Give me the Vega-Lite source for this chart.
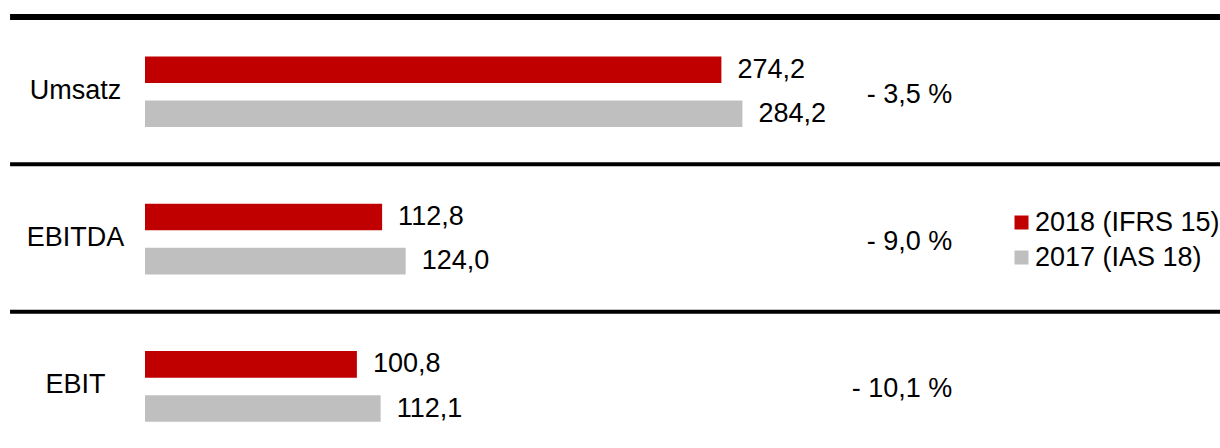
{
  "$schema": "https://vega.github.io/schema/vega-lite/v6.json",
  "width": 1075,
  "height": 448,
  "autosize": {"type": "none"},
  "padding": {"left": 145, "top": 0, "right": 0, "bottom": 0},
  "background": "white",
  "config": {
    "view": {"stroke": null},
    "font": "Liberation Sans",
    "locale": {"number": {"decimal": ",", "thousands": ".", "grouping": [3], "currency": ["", " €"]}},
    "legend": {
      "orient": "none",
      "legendX": 863,
      "legendY": 209,
      "title": null,
      "labelFont": "Liberation Sans",
      "labelFontSize": 27,
      "labelColor": "black",
      "labelLimit": 0,
      "symbolType": "square",
      "symbolSize": 196,
      "symbolStrokeWidth": 0,
      "labelOffset": 0,
      "rowPadding": 7,
      "padding": 0
    }
  },
  "datasets": {
    "values": [
      {"metric": "Umsatz", "year": "2018 (IFRS 15)", "value": 274.2},
      {"metric": "Umsatz", "year": "2017 (IAS 18)", "value": 284.2},
      {"metric": "EBITDA", "year": "2018 (IFRS 15)", "value": 112.8},
      {"metric": "EBITDA", "year": "2017 (IAS 18)", "value": 124.0},
      {"metric": "EBIT", "year": "2018 (IFRS 15)", "value": 100.8},
      {"metric": "EBIT", "year": "2017 (IAS 18)", "value": 112.1}
    ],
    "metrics": [
      {"metric": "Umsatz", "change": "- 3,5 %"},
      {"metric": "EBITDA", "change": "- 9,0 %"},
      {"metric": "EBIT", "change": "- 10,1 %"}
    ]
  },
  "layer": [
    {
      "data": {"name": "metrics"},
      "mark": {"type": "rule", "color": "black"},
      "encoding": {
        "y": {
          "field": "metric", "type": "nominal", "bandPosition": 0,
          "scale": {"domain": ["Umsatz", "EBITDA", "EBIT"], "paddingInner": 0.19, "paddingOuter": 0.115, "align": 0.5},
          "axis": {"title": null, "domain": false, "ticks": false, "tickSize": 0, "labelPadding": 70, "labelAlign": "center", "labelBaseline": "middle", "labelFontSize": 27, "labelColor": "black", "labelFont": "Liberation Sans", "labelOffset": 14}
        },
        "x": {"datum": -64.2, "type": "quantitative", "scale": {"domain": [0, 511.4]}, "axis": null},
        "x2": {"datum": 520},
        "strokeWidth": {"condition": {"test": "datum.metric === 'Umsatz'", "value": 6}, "value": 4}
      }
    },
    {
      "data": {"name": "values"},
      "mark": {"type": "bar"},
      "encoding": {
        "y": {
          "field": "metric", "type": "nominal",
          "scale": {"domain": ["Umsatz", "EBITDA", "EBIT"], "paddingInner": 0.19, "paddingOuter": 0.115, "align": 0.5},
          "axis": {"title": null, "domain": false, "ticks": false, "tickSize": 0, "labelPadding": 70, "labelAlign": "center", "labelBaseline": "middle", "labelFontSize": 27, "labelColor": "black", "labelFont": "Liberation Sans", "labelOffset": 14}
        },
        "yOffset": {
          "field": "year", "type": "nominal",
          "scale": {"domain": ["2018 (IFRS 15)", "2017 (IAS 18)"], "paddingInner": 0.397, "paddingOuter": 0.552, "align": 0.81}
        },
        "x": {"field": "value", "type": "quantitative", "scale": {"domain": [0, 511.4]}, "axis": null},
        "color": {
          "field": "year", "type": "nominal",
          "scale": {"domain": ["2018 (IFRS 15)", "2017 (IAS 18)"], "range": ["#C00000", "#BFBFBF"]}
        }
      }
    },
    {
      "data": {"name": "values"},
      "mark": {"type": "text", "align": "left", "baseline": "middle", "dx": 16, "fontSize": 27, "color": "black", "font": "Liberation Sans"},
      "encoding": {
        "y": {
          "field": "metric", "type": "nominal",
          "scale": {"domain": ["Umsatz", "EBITDA", "EBIT"], "paddingInner": 0.19, "paddingOuter": 0.115, "align": 0.5},
          "axis": {"title": null, "domain": false, "ticks": false, "tickSize": 0, "labelPadding": 70, "labelAlign": "center", "labelBaseline": "middle", "labelFontSize": 27, "labelColor": "black", "labelFont": "Liberation Sans", "labelOffset": 14}
        },
        "yOffset": {
          "field": "year", "type": "nominal",
          "scale": {"domain": ["2018 (IFRS 15)", "2017 (IAS 18)"], "paddingInner": 0.397, "paddingOuter": 0.552, "align": 0.81}
        },
        "x": {"field": "value", "type": "quantitative", "scale": {"domain": [0, 511.4]}, "axis": null},
        "text": {"field": "value", "type": "quantitative", "format": ".1f"}
      }
    },
    {
      "data": {"name": "metrics"},
      "mark": {"type": "text", "align": "right", "baseline": "middle", "fontSize": 27, "color": "black", "font": "Liberation Sans"},
      "encoding": {
        "y": {
          "field": "metric", "type": "nominal", "bandPosition": 0.651,
          "scale": {"domain": ["Umsatz", "EBITDA", "EBIT"], "paddingInner": 0.19, "paddingOuter": 0.115, "align": 0.5},
          "axis": {"title": null, "domain": false, "ticks": false, "tickSize": 0, "labelPadding": 70, "labelAlign": "center", "labelBaseline": "middle", "labelFontSize": 27, "labelColor": "black", "labelFont": "Liberation Sans", "labelOffset": 14}
        },
        "x": {"datum": 384, "type": "quantitative", "scale": {"domain": [0, 511.4]}, "axis": null},
        "text": {"field": "change", "type": "nominal"}
      }
    }
  ]
}
